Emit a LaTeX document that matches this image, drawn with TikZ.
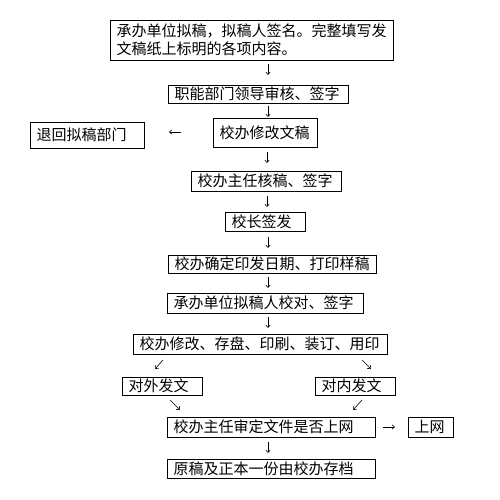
\documentclass[tikz,border=0pt]{standalone}
\usepackage{fontspec}
\newfontfamily\cjk{Noto Sans CJK SC}
\usetikzlibrary{arrows.meta}
\begin{document}
\begin{tikzpicture}[x=1pt,y=-1pt,
  box/.style={draw,line width=0.8pt,inner xsep=6.5pt,inner ysep=0pt,align=left,
    font=\cjk\fontsize{15pt}{18pt}\selectfont},
  arr/.style={line width=0.6pt,-{Straight Barb[length=2.6pt,width=4.5pt]}}]
\useasboundingbox[fill=white] (0,0) rectangle (500,499);
\newcommand\bx[6]{\node[box,minimum width=#4pt,minimum height=#5pt,text width=#4pt-13pt] (#1) at (#2,#3) {#6};}
\bx{b1}{251.5}{40}{283}{40}{承办单位拟稿，拟稿人签名。完整填写发\\文稿纸上标明的各项内容。}
\bx{b2}{258}{94}{180}{18}{职能部门领导审核、签字}
\bx{back}{87}{135}{114}{26}{退回拟稿部门}
\bx{mod}{265}{132.5}{104}{29}{校办修改文稿}
\bx{dir}{266}{181}{150}{20}{校办主任核稿、签字}
\bx{pres}{265}{221.5}{80}{19}{校长签发}
\bx{date}{272}{264}{208}{18}{校办确定印发日期、打印样稿}
\bx{proof}{265}{303}{196}{20}{承办单位拟稿人校对、签字}
\bx{mod2}{260}{344}{254}{20}{校办修改、存盘、印刷、装订、用印}
\bx{ext}{162}{386}{80}{18}{对外发文}
\bx{int}{355}{386}{80}{18}{对内发文}
\bx{main}{271}{427}{208}{20}{校办主任审定文件是否上网}
\bx{net}{430.5}{427}{45}{20}{上网}
\bx{last}{271}{468.5}{208}{19}{原稿及正本一份由校办存档}
% arrow end points
\coordinate (a1s) at (268,64);  \coordinate (a1e) at (268,75);
\coordinate (a2s) at (268,106); \coordinate (a2e) at (268,117);
\coordinate (a3s) at (181,132); \coordinate (a3e) at (169,132);
\coordinate (a4s) at (267,152); \coordinate (a4e) at (267,163);
\coordinate (a5s) at (267,196); \coordinate (a5e) at (267,207);
\coordinate (a6s) at (268,237); \coordinate (a6e) at (268,248);
\coordinate (a7s) at (268,277); \coordinate (a7e) at (268,288);
\coordinate (a8s) at (268,317); \coordinate (a8e) at (268,328);
\coordinate (a9s) at (163,360); \coordinate (a9e) at (155,369);
\coordinate (a10s) at (362,360); \coordinate (a10e) at (371,369);
\coordinate (a11s) at (170,400); \coordinate (a11e) at (180,410);
\coordinate (a12s) at (362,400); \coordinate (a12e) at (353,410);
\coordinate (a13s) at (383,427); \coordinate (a13e) at (395,427);
\coordinate (a14s) at (268,442); \coordinate (a14e) at (268,453);
\foreach \i in {1,...,14} {\draw[arr] (a\i s) -- (a\i e);}
\end{tikzpicture}
\end{document}
